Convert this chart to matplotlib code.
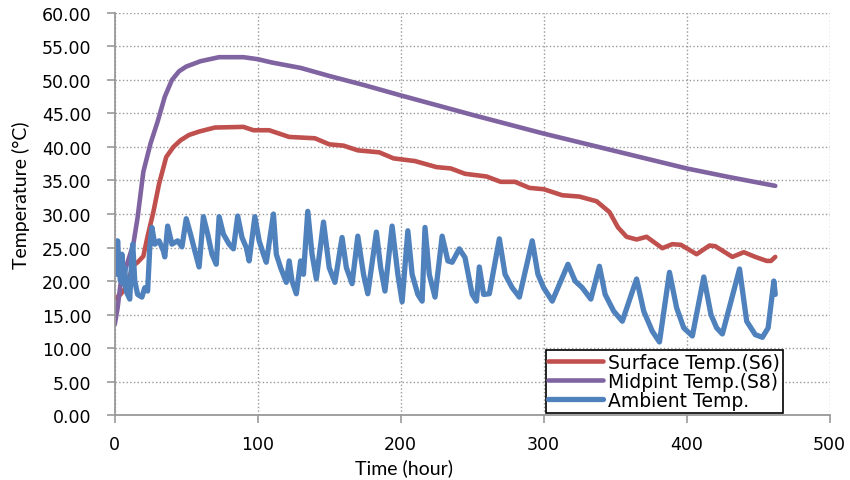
import matplotlib
matplotlib.use('Agg')
import matplotlib.pyplot as plt

# Surface temperature (S6)
surf_t = [0, 4, 7, 10, 13, 16, 20, 23, 27, 31, 36, 41, 46, 52, 59, 70, 90, 97, 108, 115, 122,
          140, 150, 160, 170, 185, 195, 210, 225, 235, 245, 260, 270, 280, 290, 300, 313, 325,
          337, 346, 352, 358, 365, 372, 383, 390, 396, 407, 416, 420, 432, 440, 448, 456, 459, 462]
surf_T = [17.3, 18.0, 18.8, 20.5, 22.3, 22.8, 23.7, 26.7, 30.3, 34.5, 38.5, 40.0, 41.0, 41.8, 42.3,
          42.9, 43.0, 42.5, 42.5, 42.0, 41.5, 41.3, 40.4, 40.2, 39.5, 39.2, 38.3, 37.9, 37.0, 36.8,
          36.0, 35.6, 34.8, 34.8, 33.9, 33.7, 32.8, 32.6, 31.9, 30.3, 28.0, 26.6, 26.2, 26.6, 24.9,
          25.5, 25.4, 24.0, 25.3, 25.2, 23.6, 24.3, 23.6, 23.0, 23.0, 23.6]

# Midpoint temperature (S8)
mid_t = [0, 2, 4, 7, 10, 13, 16, 20, 25, 30, 35, 40, 45, 50, 60, 73, 90, 100, 110, 120, 130,
         150, 175, 200, 250, 300, 350, 400, 430, 462]
mid_T = [13.5, 16.0, 19.5, 21.5, 23.5, 25.5, 29.5, 36.3, 40.5, 43.8, 47.5, 50.0, 51.3, 52.0, 52.8,
         53.4, 53.4, 53.1, 52.6, 52.2, 51.8, 50.6, 49.2, 47.7, 44.8, 42.0, 39.4, 36.8, 35.5, 34.2]

# Ambient temperature
amb_t = [0, 1, 2, 3, 4, 5, 6, 7, 8, 9, 10.5, 12, 12.6, 14, 16, 19, 21, 23, 24.5, 26, 28, 31, 34,
         35, 37, 40, 44, 47, 50, 53, 56, 59, 62, 65, 68, 71, 73, 76, 80, 83, 86, 89, 92, 94, 98,
         101, 104, 106, 111, 113, 116, 120, 122, 124, 127, 130, 132, 135, 138, 141, 146, 150,
         154, 159, 162, 166, 170, 174, 177, 183, 186, 189, 194, 198, 201, 205, 208, 212, 215,
         217, 220, 224, 229, 233, 236, 241, 245, 250, 253, 255, 258, 262, 269, 273, 278, 283,
         292, 296, 300, 306, 312, 317, 322, 327, 333, 339, 343, 349, 355, 365, 370, 376, 381,
         388, 393, 398, 404, 412, 417, 421, 425, 437, 442, 448, 453, 457, 461, 462]
amb_T = [24.8, 21.0, 26.0, 22.0, 20.0, 24.0, 19.5, 22.0, 18.5, 18.0, 17.3, 24.0, 25.5, 20.0, 18.0,
         17.6, 19.0, 18.5, 25.0, 28.0, 25.5, 26.0, 24.5, 23.6, 28.2, 25.5, 26.0, 25.1, 29.3, 27.0,
         24.5, 22.1, 29.6, 27.0, 24.0, 22.5, 29.6, 27.0, 25.5, 24.8, 29.7, 26.5, 25.0, 23.0, 29.6,
         26.0, 24.0, 22.8, 30.0, 24.0, 22.0, 19.8, 23.0, 20.0, 18.1, 23.0, 21.0, 30.4, 24.0, 20.3,
         28.8, 22.0, 19.8, 26.5, 22.0, 19.6, 26.7, 21.0, 18.1, 27.3, 22.0, 18.5, 28.2, 21.0, 16.9,
         27.5, 21.0, 18.0, 17.0, 28.0, 21.0, 17.6, 26.7, 23.0, 22.8, 24.8, 23.5, 18.0, 17.0, 22.1,
         18.0, 18.1, 26.3, 21.0, 19.0, 17.6, 26.0, 21.0, 19.0, 17.0, 20.0, 22.5, 20.0, 19.0, 17.3,
         22.2, 18.0, 15.5, 14.0, 20.3, 15.5, 12.5, 10.9, 21.3, 16.0, 13.0, 11.8, 20.6, 15.0, 13.0,
         12.1, 21.8, 14.0, 12.0, 11.6, 13.0, 20.0, 18.0]

fig = plt.figure(figsize=(8.5, 4.81), dpi=100)
ax = fig.add_axes([0.135, 0.135, 0.841, 0.836])

ax.plot(surf_t, surf_T, color='#C0504D', lw=3.3, label='Surface Temp.(S6)', solid_capstyle='round')
ax.plot(mid_t, mid_T, color='#8064A2', lw=3.3, label='Midpint Temp.(S8)', solid_capstyle='round')
ax.plot(amb_t, amb_T, color='#4F81BD', lw=3.8, label='Ambient Temp.', solid_capstyle='round',
        solid_joinstyle='round')

ax.set_xlim(0, 500)
ax.set_ylim(0, 60)
ax.set_xticks(range(0, 501, 100))
ax.set_yticks(range(0, 61, 5))
ax.set_yticklabels(['%.2f' % v for v in range(0, 61, 5)])
ax.grid(True, color='#999999', linestyle=':', linewidth=1)
for s in ['top', 'right']:
    ax.spines[s].set_visible(False)
for s in ['left', 'bottom']:
    ax.spines[s].set_color('#999999')
    ax.spines[s].set_linewidth(1.3)
ax.tick_params(colors='#999999', labelcolor='black', labelsize=12.5, length=6, width=1.2)
ax.tick_params(axis='y', pad=11)
ax.tick_params(axis='x', pad=8)

ax.set_ylabel('Temperature (°C)', fontsize=14, family='Lato')
ax.yaxis.set_label_coords(-0.118, 0.55)
ax.set_xlabel('Time (hour)', fontsize=14, family='Lato', va='top')
ax.xaxis.set_label_coords(0.405, -0.108)

leg = ax.legend(loc='lower right', bbox_to_anchor=(0.935, 0.006), fontsize=13.5,
                frameon=True, fancybox=False, edgecolor='black', framealpha=1,
                handlelength=2.9, borderpad=0.15, labelspacing=0.0, handletextpad=0.3,
                borderaxespad=0)
leg.get_frame().set_linewidth(1.2)

fig.savefig('out.png', dpi=100)
